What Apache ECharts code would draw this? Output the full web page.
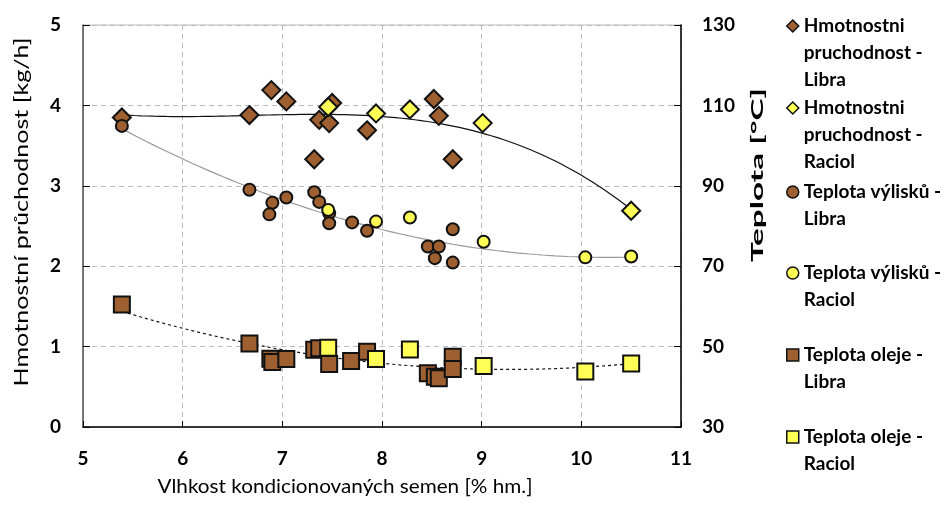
<!DOCTYPE html>
<html>
<head>
<meta charset="utf-8">
<script src="https://cdn.jsdelivr.net/npm/echarts@6/dist/echarts.min.js"></script>
<style>
  html, body { margin: 0; padding: 0; background: #fff; }
  #chart { width: 949px; height: 506px; }
</style>
</head>
<body>
<div id="chart"></div>
<script>
// Mass throughput [kg/h] vs. seed moisture [% hm.]
const hmotLibraX = [5.39, 6.67, 6.89, 7.04, 7.32, 7.37, 7.47, 7.50, 7.85, 8.52, 8.57, 8.71];
const hmotLibraY = [3.85, 3.88, 4.19, 4.05, 3.33, 3.82, 3.78, 4.03, 3.69, 4.08, 3.87, 3.33];
const hmotRaciolX = [7.46, 7.94, 8.28, 9.01, 10.50];
const hmotRaciolY = [3.98, 3.90, 3.95, 3.78, 2.69];

// Press cake temperature [°C]
const vylLibraX = [5.39, 6.67, 6.90, 6.87, 7.04, 7.32, 7.37, 7.47, 7.47, 7.70, 7.85, 8.71, 8.46, 8.57, 8.53, 8.71];
const vylLibraY = [104.9, 89.0, 85.8, 82.9, 87.1, 88.4, 86.0, 83.2, 80.7, 80.9, 78.8, 79.2, 74.9, 74.9, 72.0, 70.9];
const vylRaciolX = [7.46, 7.94, 8.28, 9.02, 10.04, 10.50];
const vylRaciolY = [84.0, 81.1, 82.1, 76.1, 72.2, 72.4];

// Oil temperature [°C]
const olejLibraX = [5.39, 6.67, 6.88, 6.90, 7.04, 7.32, 7.37, 7.47, 7.69, 7.85, 8.46, 8.53, 8.57, 8.71, 8.71];
const olejLibraY = [60.5, 50.8, 47.0, 46.2, 46.9, 49.2, 49.6, 45.7, 46.4, 48.7, 43.4, 42.5, 42.1, 47.5, 44.4];
const olejRaciolX = [7.46, 7.94, 8.28, 9.02, 10.04, 10.50];
const olejRaciolY = [49.7, 46.9, 49.3, 45.2, 43.8, 45.8];

const seriesNames = [
  'Hmotnostni pruchodnost - Libra',
  'Hmotnostni pruchodnost - Raciol',
  'Teplota výlisků - Libra',
  'Teplota výlisků - Raciol',
  'Teplota oleje - Libra',
  'Teplota oleje - Raciol'
];
const legendLines = [
  ['Hmotnostni', 'pruchodnost -', 'Libra'],
  ['Hmotnostni', 'pruchodnost -', 'Raciol'],
  ['Teplota výlisků -', 'Libra'],
  ['Teplota výlisků -', 'Raciol'],
  ['Teplota oleje -', 'Libra'],
  ['Teplota oleje -', 'Raciol']
];

const xTicks = [5, 6, 7, 8, 9, 10, 11];
const yLeftTicks = [0, 1, 2, 3, 4, 5];
const yRightTicks = [30, 50, 70, 90, 110, 130];

const xTitle = 'Vlhkost kondicionovaných semen [% hm.]';
const yLeftTitle = 'Hmotnostní průchodnost [kg/h]';
const yRightTitle = 'Teplota [°C]';

const BROWN = '#9E6030';
const YELLOW = '#FFFF55';
const FONT = 'Lato';

const zip = (xs, ys) => xs.map((x, i) => [x, ys[i]]);

// Least-squares polynomial trendline through the pooled measurements
function polyFit(xs, ys, order) {
  const n = order + 1;
  const A = Array.from({ length: n }, () => new Array(n + 1).fill(0));
  for (let k = 0; k < xs.length; k++) {
    for (let i = 0; i < n; i++) {
      for (let j = 0; j < n; j++) A[i][j] += Math.pow(xs[k], i + j);
      A[i][n] += ys[k] * Math.pow(xs[k], i);
    }
  }
  for (let c = 0; c < n; c++) {
    let p = c;
    for (let r = c + 1; r < n; r++) if (Math.abs(A[r][c]) > Math.abs(A[p][c])) p = r;
    [A[c], A[p]] = [A[p], A[c]];
    for (let r = 0; r < n; r++) {
      if (r === c) continue;
      const f = A[r][c] / A[c][c];
      for (let k = c; k <= n; k++) A[r][k] -= f * A[c][k];
    }
  }
  return A.map((row, i) => row[n] / row[i]);
}
function trend(xs, ys, order) {
  const coef = polyFit(xs, ys, order);
  const lo = Math.min(...xs), hi = Math.max(...xs);
  const pts = [];
  const steps = 80;
  for (let s = 0; s <= steps; s++) {
    const x = lo + (hi - lo) * s / steps;
    pts.push([x, coef.reduce((acc, c, i) => acc + c * Math.pow(x, i), 0)]);
  }
  return pts;
}

const hmotTrend = trend(hmotLibraX.concat(hmotRaciolX), hmotLibraY.concat(hmotRaciolY), 3);
const vylTrend = trend(vylLibraX.concat(vylRaciolX), vylLibraY.concat(vylRaciolY), 2);
const olejTrend = trend(olejLibraX.concat(olejRaciolX), olejLibraY.concat(olejRaciolY), 2);

// Axis titles are drawn with a slight stretch along the reading direction
const measureCtx = document.createElement('canvas').getContext('2d');
function textWidth(str, font) {
  measureCtx.font = font;
  return measureCtx.measureText(str).width;
}
function title(text, x, y, font, length, rotation) {
  return {
    type: 'text',
    x: x, y: y,
    rotation: rotation,
    scaleX: length / textWidth(text, font),
    silent: true,
    style: {
      text: text, font: font, fill: '#000',
      textAlign: 'center', textVerticalAlign: 'middle', verticalAlign: 'middle'
    }
  };
}

const chart = echarts.init(document.getElementById('chart'));

const markerBorder = { borderColor: '#111', borderWidth: 2 };

// One legend block per series; blank lines above the label keep the
// marker level with the first text line
const LINE_H = 27;
const firstLineY = [26, 108, 192, 273, 355, 437];
const legendIcons = ['diamond', 'diamond', 'circle', 'circle', 'rect', 'rect'];
const legends = seriesNames.map((name, i) => {
  const n = legendLines[i].length;
  const bottomEdge = firstLineY[i] + (2 * n - 1) * LINE_H / 2;
  const label = '\n'.repeat(n - 1) + legendLines[i].join('\n');
  return {
    data: [{ name: name, icon: legendIcons[i] }],
    left: 786,
    bottom: 506 - bottomEdge,
    padding: 0,
    itemWidth: 12,
    itemHeight: 12,
    selectedMode: false,
    itemStyle: { borderColor: '#111', borderWidth: 1.5 },
    formatter: () => label,
    textStyle: {
      fontFamily: FONT,
      fontWeight: 'bold',
      fontSize: 19,
      color: '#000',
      lineHeight: LINE_H
    }
  };
});

const scatter = (name, xs, ys, symbol, size, color, yAxisIndex, z) => ({
  name: name,
  type: 'scatter',
  yAxisIndex: yAxisIndex,
  symbol: symbol,
  symbolSize: size,
  z: z,
  itemStyle: Object.assign({ color: color, opacity: 1 }, markerBorder),
  emphasis: { disabled: true },
  data: zip(xs, ys)
});

const trendLine = (data, yAxisIndex, color, type) => ({
  type: 'line',
  yAxisIndex: yAxisIndex,
  showSymbol: false,
  smooth: false,
  z: 1,
  silent: true,
  lineStyle: { color: color, width: 1.2, type: type },
  data: data
});

chart.setOption({
  backgroundColor: '#fff',
  animation: false,
  grid: {
    left: 83, right: 268, top: 25, bottom: 79,
    show: true, borderColor: '#bbb', borderWidth: 1, backgroundColor: 'transparent'
  },
  legend: legends,
  graphic: [
    title(xTitle, 345, 487, '19px ' + FONT, 375, 0),
    title(yLeftTitle, 22, 212, '19px ' + FONT, 349, Math.PI / 2),
    title(yRightTitle, 758, 175, 'bold 17px ' + FONT, 174, Math.PI / 2)
  ],
  xAxis: {
    type: 'value',
    min: xTicks[0], max: xTicks[xTicks.length - 1], interval: 1,
    axisLine: { lineStyle: { color: '#000', width: 1.5 } },
    axisTick: { inside: true, length: 6, lineStyle: { color: '#000' } },
    axisLabel: { margin: 22, fontFamily: FONT, fontWeight: 'bold', fontSize: 19, color: '#000' },
    splitLine: { show: true, lineStyle: { color: '#bbb', type: [5, 4] } }
  },
  yAxis: [
    {
      type: 'value',
      min: yLeftTicks[0], max: yLeftTicks[yLeftTicks.length - 1], interval: 1,
      axisLine: { show: true, lineStyle: { color: '#555', width: 1.5 } },
      axisTick: { show: true, inside: true, length: 7, lineStyle: { color: '#000' } },
      axisLabel: { margin: 22, fontFamily: FONT, fontWeight: 'bold', fontSize: 19, color: '#000' },
      splitLine: { show: true, lineStyle: { color: '#bbb', type: [5, 4] } }
    },
    {
      type: 'value',
      position: 'right',
      min: yRightTicks[0], max: yRightTicks[yRightTicks.length - 1], interval: 20,
      axisLine: { show: true, lineStyle: { color: '#000', width: 1.5 } },
      axisTick: { show: true, inside: true, length: 7, lineStyle: { color: '#000' } },
      axisLabel: { margin: 21, fontFamily: FONT, fontWeight: 'bold', fontSize: 19, color: '#000' },
      splitLine: { show: false }
    }
  ],
  series: [
    trendLine(hmotTrend, 0, '#111', 'solid'),
    trendLine(vylTrend, 1, '#999', 'solid'),
    trendLine(olejTrend, 1, '#111', [3, 3]),
    scatter(seriesNames[0], hmotLibraX, hmotLibraY, 'diamond', 18, BROWN, 0, 3),
    scatter(seriesNames[1], hmotRaciolX, hmotRaciolY, 'diamond', 18, YELLOW, 0, 4),
    scatter(seriesNames[2], vylLibraX, vylLibraY, 'circle', 12, BROWN, 1, 5),
    scatter(seriesNames[3], vylRaciolX, vylRaciolY, 'circle', 12, YELLOW, 1, 6),
    scatter(seriesNames[4], olejLibraX, olejLibraY, 'rect', 16, BROWN, 1, 7),
    scatter(seriesNames[5], olejRaciolX, olejRaciolY, 'rect', 16, YELLOW, 1, 8)
  ]
});
</script>
</body>
</html>
